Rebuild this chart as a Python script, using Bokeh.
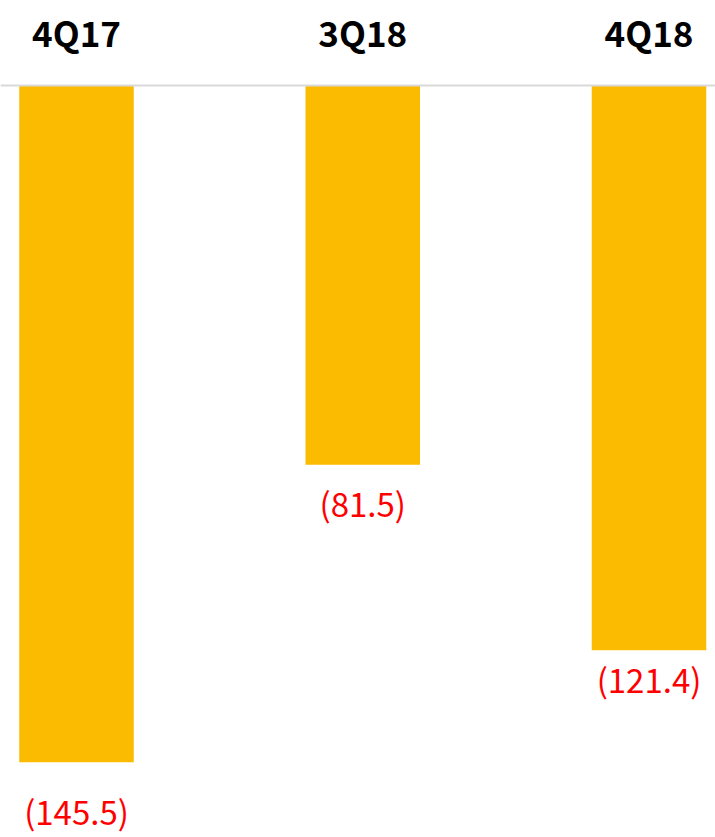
from bokeh.plotting import figure
from bokeh.models import ColumnDataSource, Span
from bokeh.embed import file_html
from bokeh.resources import INLINE
from bokeh.core.properties import value

# ---- data ----
categories = ["4Q17", "3Q18", "4Q18"]
values = [-145.5, -81.5, -121.4]
value_labels = ["(145.5)", "(81.5)", "(121.4)"]

# ---- layout constants ----
W, H = 715, 837
PX_PER_UNIT = 4.652          # vertical pixels per data unit
ZERO_PX = 85                 # pixel row of the zero line
X_PX_PER_UNIT = 286.25       # horizontal pixels per category step
FIRST_CENTER_PX = 76
BAR_WIDTH = 0.4
CAT_LABEL_CENTER_PX = 31
LABEL_GAPS_PX = [49, 38, 29]  # gap from bar end to value label centre

y_top = ZERO_PX / PX_PER_UNIT
y_bottom = y_top - H / PX_PER_UNIT
x_start = -FIRST_CENTER_PX / X_PX_PER_UNIT
x_end = x_start + W / X_PX_PER_UNIT

xs = list(range(len(categories)))
cat_y = [y_top - CAT_LABEL_CENTER_PX / PX_PER_UNIT] * len(categories)
lab_y = [v - g / PX_PER_UNIT for v, g in zip(values, LABEL_GAPS_PX)]

src = ColumnDataSource(dict(x=xs, top=[0] * len(xs), bottom=values,
                            cat=categories, cat_y=cat_y,
                            lab=value_labels, lab_y=lab_y))

p = figure(width=W, height=H, x_range=(x_start, x_end), y_range=(y_bottom, y_top),
           output_backend="svg", toolbar_location=None, min_border=0)
p.axis.visible = False
p.grid.visible = False
p.outline_line_color = None
p.background_fill_color = "white"
p.border_fill_color = "white"

p.vbar(x="x", top="top", bottom="bottom", width=BAR_WIDTH, source=src,
       fill_color="#FABB00", line_color=None)

p.add_layout(Span(location=0, dimension="width", line_color="#D9D9D9", line_width=2))

p.text(x="x", y="cat_y", text="cat", source=src, text_align="center",
       text_baseline="middle", text_font=value("Noto Sans CJK TC"),
       text_font_style="bold", text_font_size="35px", text_color="#000000")

p.text(x="x", y="lab_y", text="lab", source=src, text_align="center",
       text_baseline="middle", text_font=value("Noto Sans CJK TC"),
       text_font_size="33px", text_color="#FF0000")

open("out.html", "w").write(file_html(p, INLINE))
